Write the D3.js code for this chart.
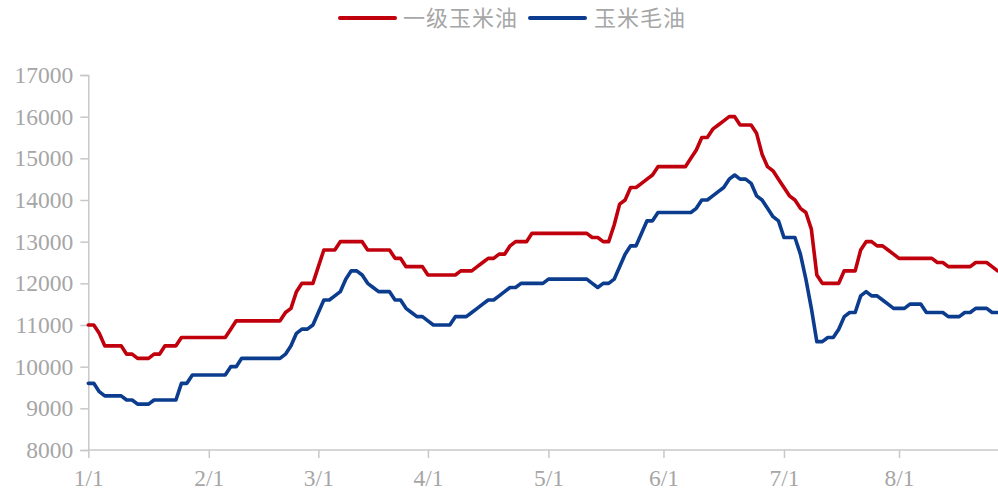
<!DOCTYPE html>
<html>
<head>
<meta charset="utf-8">
<script src="https://cdn.jsdelivr.net/npm/d3@7"></script>
<style>
  html, body { margin: 0; padding: 0; background: #ffffff; }
  svg { display: block; }
</style>
</head>
<body>
<svg id="chart" width="998" height="494"></svg>
<script>
// ---- data ----
const seriesNames = ["一级玉米油", "玉米毛油"];
const tickLabels = ["1/1", "2/1", "3/1", "4/1", "5/1", "6/1", "7/1", "8/1"];
const tickIndex = [0, 22, 42, 62, 84, 105, 127, 148];
const yTicks = [8000, 9000, 10000, 11000, 12000, 13000, 14000, 15000, 16000, 17000];

const refinedOil = [
  11000, 11000, 10800, 10500, 10500, 10500, 10500, 10300, 10300, 10200,
  10200, 10200, 10300, 10300, 10500, 10500, 10500, 10700, 10700, 10700,
  10700, 10700, 10700, 10700, 10700, 10700, 10900, 11100, 11100, 11100,
  11100, 11100, 11100, 11100, 11100, 11100, 11300, 11400, 11800, 12000,
  12000, 12000, 12400, 12800, 12800, 12800, 13000, 13000, 13000, 13000,
  13000, 12800, 12800, 12800, 12800, 12800, 12600, 12600, 12400, 12400,
  12400, 12400, 12200, 12200, 12200, 12200, 12200, 12200, 12300, 12300,
  12300, 12400, 12500, 12600, 12600, 12700, 12700, 12900, 13000, 13000,
  13000, 13200, 13200, 13200, 13200, 13200, 13200, 13200, 13200, 13200,
  13200, 13200, 13100, 13100, 13000, 13000, 13400, 13900, 14000, 14300,
  14300, 14400, 14500, 14600, 14800, 14800, 14800, 14800, 14800, 14800,
  15000, 15200, 15500, 15500, 15700, 15800, 15900, 16000, 16000, 15800,
  15800, 15800, 15600, 15100, 14800, 14700, 14500, 14300, 14100, 14000,
  13800, 13700, 13300, 12200, 12000, 12000, 12000, 12000, 12300, 12300,
  12300, 12800, 13000, 13000, 12900, 12900, 12800, 12700, 12600, 12600,
  12600, 12600, 12600, 12600, 12600, 12500, 12500, 12400, 12400, 12400,
  12400, 12400, 12500, 12500, 12500, 12400, 12300
];

const crudeOil = [
  9600, 9600, 9400, 9300, 9300, 9300, 9300, 9200, 9200, 9100,
  9100, 9100, 9200, 9200, 9200, 9200, 9200, 9600, 9600, 9800,
  9800, 9800, 9800, 9800, 9800, 9800, 10000, 10000, 10200, 10200,
  10200, 10200, 10200, 10200, 10200, 10200, 10300, 10500, 10800, 10900,
  10900, 11000, 11300, 11600, 11600, 11700, 11800, 12100, 12300, 12300,
  12200, 12000, 11900, 11800, 11800, 11800, 11600, 11600, 11400, 11300,
  11200, 11200, 11100, 11000, 11000, 11000, 11000, 11200, 11200, 11200,
  11300, 11400, 11500, 11600, 11600, 11700, 11800, 11900, 11900, 12000,
  12000, 12000, 12000, 12000, 12100, 12100, 12100, 12100, 12100, 12100,
  12100, 12100, 12000, 11900, 12000, 12000, 12100, 12400, 12700, 12900,
  12900, 13200, 13500, 13500, 13700, 13700, 13700, 13700, 13700, 13700,
  13700, 13800, 14000, 14000, 14100, 14200, 14300, 14500, 14600, 14500,
  14500, 14400, 14100, 14000, 13800, 13600, 13500, 13100, 13100, 13100,
  12700, 12100, 11400, 10600, 10600, 10700, 10700, 10900, 11200, 11300,
  11300, 11700, 11800, 11700, 11700, 11600, 11500, 11400, 11400, 11400,
  11500, 11500, 11500, 11300, 11300, 11300, 11300, 11200, 11200, 11200,
  11300, 11300, 11400, 11400, 11400, 11300, 11300
];

const colors = ["#C0000C", "#0B3C8E"];

// ---- layout ----
const svg = d3.select("#chart");
const padL = 88.3, padR = 997.6, padT = 75, padB = 450;

const x = d3.scaleLinear().domain([0, refinedOil.length - 1]).range([padL, padR]);
const y = d3.scaleLinear().domain([8000, 17000]).range([padB, padT]);

const axisColor = "#C8C8C8";
const textColor = "#A6A6A6";
const numFont = "'Liberation Serif', 'DejaVu Serif', serif";

// y axis
const yAxis = svg.append("g")
  .attr("transform", `translate(${padL},0)`)
  .call(d3.axisLeft(y).tickValues(yTicks).tickSize(8).tickPadding(7).tickFormat(d3.format("d")));
yAxis.select(".domain").attr("stroke", axisColor).attr("stroke-width", 1.5);
yAxis.selectAll(".tick line").attr("stroke", axisColor).attr("stroke-width", 1.5);
yAxis.selectAll(".tick text")
  .attr("fill", textColor)
  .style("font-family", numFont)
  .style("font-size", "23.5px");

// x axis
const xAxis = svg.append("g")
  .attr("transform", `translate(0,${padB})`)
  .call(d3.axisBottom(x).tickValues(tickIndex).tickSize(8).tickPadding(11)
    .tickFormat((d, i) => tickLabels[i]));
xAxis.select(".domain").attr("stroke", axisColor).attr("stroke-width", 1.5)
  .attr("d", `M${padL},0H998`);
xAxis.selectAll(".tick line").attr("stroke", axisColor).attr("stroke-width", 1.5);
xAxis.selectAll(".tick text")
  .attr("fill", textColor)
  .style("font-family", numFont)
  .style("font-size", "23.5px");

// lines
const line = d3.line()
  .x((d, i) => x(i))
  .y(d => y(d))
  .curve(d3.curveLinear);

[refinedOil, crudeOil].forEach((s, k) => {
  svg.append("path")
    .datum(s)
    .attr("fill", "none")
    .attr("stroke", colors[k])
    .attr("stroke-width", 3.6)
    .attr("stroke-linejoin", "round")
    .attr("stroke-linecap", "round")
    .attr("d", line);
});

// legend
const legend = svg.append("g");
const legendItems = [
  { name: seriesNames[0], color: colors[0], x0: 340, tx: 403 },
  { name: seriesNames[1], color: colors[1], x0: 530, tx: 594 }
];
legendItems.forEach(it => {
  legend.append("line")
    .attr("x1", it.x0).attr("x2", it.x0 + 55)
    .attr("y1", 18).attr("y2", 18)
    .attr("stroke", it.color).attr("stroke-width", 4).attr("stroke-linecap", "round");
  legend.append("text")
    .attr("x", it.tx).attr("y", 26)
    .attr("fill", textColor)
    .style("font-family", "'Noto Sans CJK SC', sans-serif")
    .style("font-size", "22px")
    .style("letter-spacing", "1px")
    .text(it.name);
});
</script>
</body>
</html>
